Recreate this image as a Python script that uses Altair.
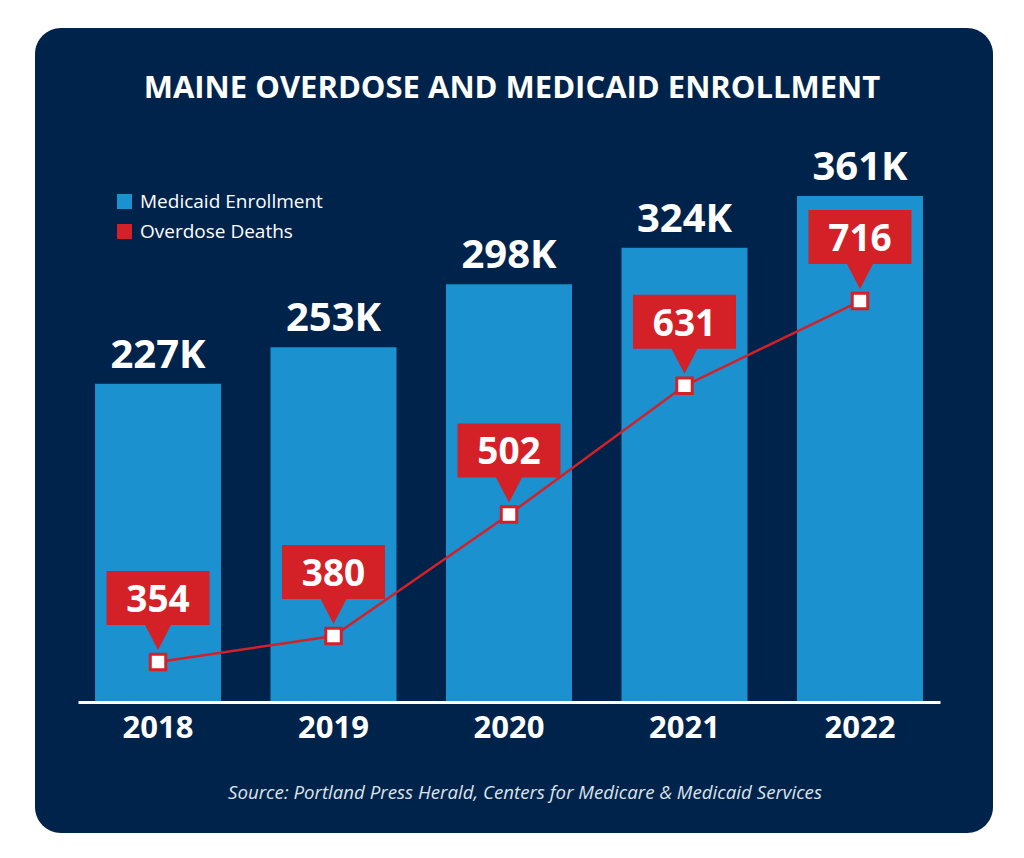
import altair as alt
import pandas as pd

# ---- data ----
years = ["2018", "2019", "2020", "2021", "2022"]
enrollment_k = [227, 253, 298, 324, 361]          # Medicaid enrollment, thousands
deaths = [354, 380, 502, 631, 716]                # overdose deaths
series = ["Medicaid Enrollment", "Overdose Deaths"]
title_text = "MAINE OVERDOSE AND MEDICAID ENROLLMENT"
source_text = "Source: Portland Press Herald, Centers for Medicare & Medicaid Services"

# ---- styling ----
NAVY = "#00234b"
BLUE = "#1b91d0"
RED = "#d42027"
FONT = "Open Sans"
W, H = 862, 562

df = pd.DataFrame({
    "year": years,
    "enroll": enrollment_k,
    "deaths": deaths,
    "series": series[0],
})
df["enroll_label"] = [f"{v}K" for v in enrollment_k]

# callout shape: box above the point with a pointer down toward it (units = px/100)
CALLOUT = ("M -0.515 -0.91 L 0.515 -0.91 L 0.515 -0.37 L 0.13 -0.37 "
           "L 0 -0.12 L -0.13 -0.37 L -0.515 -0.37 Z")

x = alt.X(
    "year:O",
    scale=alt.Scale(paddingInner=0.282, paddingOuter=0.097),
    axis=alt.Axis(
        title=None, labelAngle=0, labelFont=FONT, labelFontSize=31,
        labelFontWeight="bold", labelColor="white", labelBaseline="alphabetic",
        labelPadding=35, ticks=False, grid=False, domainColor="white",
        domainWidth=3, zindex=1,
    ),
)

one = alt.Data(values=[{}])

background = alt.Chart(one).mark_rect(color=NAVY, cornerRadius=26).encode(
    x=alt.value(-43), x2=alt.value(915), y=alt.value(-112), y2=alt.value(693)
)

title = alt.Chart(one).mark_text(
    font=FONT, fontSize=31, fontWeight="bold", color="white",
    align="center", baseline="alphabetic",
).encode(x=alt.value(434), y=alt.value(-42), text=alt.value(title_text))

source = alt.Chart(one).mark_text(
    font=FONT, fontSize=18.7, fontStyle="italic", color="#dde3ec",
    align="center", baseline="alphabetic",
).encode(x=alt.value(447), y=alt.value(659), text=alt.value(source_text))

y_bar = alt.Y("enroll:Q", scale=alt.Scale(domain=[0, 400.9], nice=False, zero=True), axis=None)

bars = alt.Chart(df).mark_bar(opacity=1).encode(
    x=x,
    y=y_bar,
    color=alt.Color(
        "series:N",
        scale=alt.Scale(domain=series, range=[BLUE, RED]),
        legend=alt.Legend(
            title=None, orient="none", legendX=37, legendY=52,
            symbolType="square", symbolSize=225, symbolStrokeWidth=0,
            symbolOpacity=1, labelFont=FONT, labelFontSize=19,
            labelColor="white", labelLimit=400, rowPadding=10,
            labelOffset=6, padding=0,
        ),
    ),
)

bar_labels = alt.Chart(df).mark_text(
    font=FONT, fontSize=40, fontWeight="bold", color="white",
    baseline="alphabetic", dy=-16,
).encode(x=x, y=y_bar, text="enroll_label:N")

y_line = alt.Y("deaths:Q", scale=alt.Scale(domain=[313.9, 877.6], nice=False, zero=False), axis=None)

line = alt.Chart(df).mark_line(color=RED, strokeWidth=2.5).encode(x=x, y=y_line)

callouts = alt.Chart(df).mark_point(
    shape=CALLOUT, size=40000, filled=True, color=RED, opacity=1, strokeWidth=0
).encode(x=x, y=y_line)

callout_text = alt.Chart(df).mark_text(
    font=FONT, fontSize=37, fontWeight="bold", color="white",
    baseline="alphabetic", dy=-50,
).encode(x=x, y=y_line, text="deaths:Q")

squares = alt.Chart(df).mark_square(
    size=240, fill="white", stroke=RED, strokeWidth=3, opacity=1, fillOpacity=1
).encode(x=x, y=y_line)

bar_layer = alt.layer(bars, bar_labels)
line_layer = alt.layer(line, callouts, callout_text, squares)

chart = alt.layer(background, title, source, bar_layer, line_layer).resolve_scale(
    y="independent"
).properties(
    width=W, height=H,
    autosize=alt.AutoSizeParams(type="none"),
    padding={"left": 78, "top": 140, "right": 84, "bottom": 156},
    background="white",
).configure_view(stroke=None)

chart.save("out.html", embed_options={"renderer": "svg", "actions": False})
